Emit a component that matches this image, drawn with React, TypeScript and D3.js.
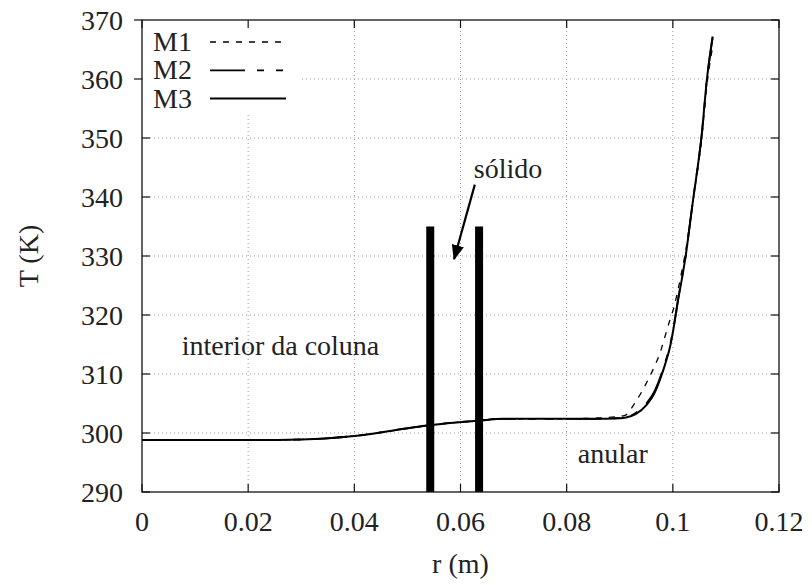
import React, { useEffect, useRef } from 'react';
import * as d3 from 'd3';

// radial position (m)
const rValues = [
  0, 0.01, 0.02, 0.03, 0.035, 0.04, 0.045, 0.05, 0.054, 0.058, 0.0635, 0.068, 0.075,
  0.082, 0.086, 0.089, 0.091, 0.093, 0.0951, 0.0965, 0.0976, 0.0986, 0.0995, 0.1003,
  0.101, 0.1018, 0.1025, 0.1032, 0.1039, 0.1047, 0.1054, 0.1064, 0.1075,
];

// temperature (K) for each model
const m1Values = [
  298.8, 298.8, 298.8, 298.9, 299.1, 299.5, 300.1, 300.8, 301.3, 301.7, 302.1, 302.4, 302.4,
  302.45, 302.55, 302.75, 303.0, 305.3, 308.6, 311.2, 313.6, 316.6, 319.3, 321.6,
  324.4, 327.9, 331.3, 335.5, 340.0, 344.8, 349.6, 358.8, 365.5,
];
const m2Values = [
  298.8, 298.8, 298.8, 298.9, 299.1, 299.5, 300.1, 300.8, 301.3, 301.7, 302.1, 302.4, 302.4,
  302.4, 302.4, 302.5, 302.65, 303.4, 305.1, 307.0, 309.4, 312.1, 315.0, 318.8,
  322.7, 326.7, 330.5, 335.3, 340.1, 345.2, 350.2, 359.7, 367.0,
];
const m3Values = [
  298.8, 298.8, 298.8, 298.9, 299.1, 299.5, 300.1, 300.8, 301.3, 301.7, 302.1, 302.4, 302.4,
  302.4, 302.4, 302.45, 302.6, 303.2, 304.8, 306.7, 309.1, 311.8, 314.7, 318.6,
  322.6, 326.6, 330.5, 335.3, 340.1, 345.2, 350.2, 359.8, 367.2,
];

const seriesNames = ['M1', 'M2', 'M3'];
const seriesDash = ['6,7', '35,12,7,12,7,12', null];
const seriesWidth = [1.3, 1.8, 2];

const xTicks = [0, 0.02, 0.04, 0.06, 0.08, 0.1, 0.12];
const yTicks = [290, 300, 310, 320, 330, 340, 350, 360, 370];

// wall of the column (solid) and its top
const wallPositions = [0.0543, 0.0635];
const wallTop = 335;

// arrow pointing at the solid: [r, T] tail and tip
const arrowTail = [0.0627, 342.1];
const arrowTip = [0.0588, 329.5];

const labels = [
  { text: 'sólido', r: 0.0625, T: 343.2 },
  { text: 'interior da coluna', r: 0.0075, T: 313.3 },
  { text: 'anular', r: 0.0821, T: 295 },
];

const App = () => {
  const svgRef = useRef<SVGSVGElement>(null);

  useEffect(() => {
    if (!svgRef.current) return;
    const width = 812;
    const height = 585;
    const margin = { top: 20, right: 33, bottom: 93, left: 142 };
    const font = "'Liberation Serif', 'Times New Roman', serif";

    const svg = d3.select(svgRef.current);
    svg.selectAll('*').remove();
    svg.attr('width', width).attr('height', height);

    const w = width - margin.left - margin.right;
    const h = height - margin.top - margin.bottom;

    const x = d3.scaleLinear().domain([0, 0.12]).range([margin.left, margin.left + w]);
    const y = d3.scaleLinear().domain([290, 370]).range([margin.top + h, margin.top]);

    // grid
    const grid = svg.append('g');
    grid.selectAll('.gx')
      .data(xTicks.slice(1, -1))
      .join('line')
      .attr('x1', d => x(d)).attr('x2', d => x(d))
      .attr('y1', y(290)).attr('y2', y(370))
      .attr('stroke', '#999').attr('stroke-width', 1).attr('stroke-dasharray', '1,3');
    grid.selectAll('.gy')
      .data(yTicks.slice(1, -1))
      .join('line')
      .attr('x1', x(0)).attr('x2', x(0.12))
      .attr('y1', d => y(d)).attr('y2', d => y(d))
      .attr('stroke', '#999').attr('stroke-width', 1).attr('stroke-dasharray', '1,3');

    // legend background hides the grid
    svg.append('rect')
      .attr('x', x(0) + 1).attr('y', y(370) + 1)
      .attr('width', 158).attr('height', 91)
      .attr('fill', '#fff');

    // ticks (inside, all four sides)
    const tk = 8;
    const ticks = svg.append('g').attr('stroke', '#111').attr('stroke-width', 1.2);
    xTicks.forEach(t => {
      ticks.append('line').attr('x1', x(t)).attr('x2', x(t)).attr('y1', y(290)).attr('y2', y(290) - tk);
      ticks.append('line').attr('x1', x(t)).attr('x2', x(t)).attr('y1', y(370)).attr('y2', y(370) + tk);
    });
    yTicks.forEach(t => {
      const inLegend = t >= 360;
      ticks.append('line')
        .attr('x1', x(0)).attr('x2', inLegend ? x(0) - tk : x(0) + tk)
        .attr('y1', y(t)).attr('y2', y(t));
      ticks.append('line').attr('x1', x(0.12)).attr('x2', x(0.12) - tk).attr('y1', y(t)).attr('y2', y(t));
    });

    // tick labels
    svg.append('g')
      .selectAll('text')
      .data(xTicks)
      .join('text')
      .attr('x', d => x(d))
      .attr('y', y(290) + 39)
      .attr('text-anchor', 'middle')
      .attr('font-family', font).attr('font-size', 28).attr('fill', '#222')
      .text(d => d3.format('~g')(d));
    svg.append('g')
      .selectAll('text')
      .data(yTicks)
      .join('text')
      .attr('x', x(0) - 19)
      .attr('y', d => y(d))
      .attr('dy', '0.35em')
      .attr('text-anchor', 'end')
      .attr('font-family', font).attr('font-size', 28).attr('fill', '#222')
      .text(d => d);

    // axis titles
    svg.append('text')
      .attr('x', x(0.06)).attr('y', 573)
      .attr('text-anchor', 'middle')
      .attr('font-family', font).attr('font-size', 28).attr('fill', '#222')
      .text('r (m)');
    svg.append('text')
      .attr('transform', `translate(38,${y(330)}) rotate(-90)`)
      .attr('text-anchor', 'middle')
      .attr('font-family', font).attr('font-size', 28).attr('fill', '#222')
      .text('T (K)');

    // solid walls
    svg.selectAll('.wall')
      .data(wallPositions)
      .join('rect')
      .attr('x', d => x(d) - 4)
      .attr('y', y(wallTop))
      .attr('width', 8)
      .attr('height', y(290) - y(wallTop))
      .attr('fill', '#000');

    // curves
    const series = [m1Values, m2Values, m3Values];
    const line = d3.line<number>()
      .x((_, i) => x(rValues[i]))
      .y(d => y(d))
      .curve(d3.curveMonotoneX);
    series.forEach((vals, i) => {
      svg.append('path')
        .datum(vals)
        .attr('d', line)
        .attr('fill', 'none')
        .attr('stroke', '#000')
        .attr('stroke-width', seriesWidth[i])
        .attr('stroke-dasharray', seriesDash[i]);
    });

    // frame
    svg.append('rect')
      .attr('x', x(0)).attr('y', y(370))
      .attr('width', w).attr('height', h)
      .attr('fill', 'none').attr('stroke', '#111').attr('stroke-width', 1.3);

    // legend
    const leg = svg.append('g');
    seriesNames.forEach((name, i) => {
      const ly = y(370) + 22 + i * 28.3;
      leg.append('text')
        .attr('x', x(0) + 11).attr('y', ly + 9)
        .attr('font-family', font).attr('font-size', 28).attr('fill', '#222')
        .text(name);
      leg.append('line')
        .attr('x1', 210).attr('x2', 286)
        .attr('y1', ly).attr('y2', ly)
        .attr('stroke', '#000')
        .attr('stroke-width', seriesWidth[i])
        .attr('stroke-dasharray', seriesDash[i]);
    });

    // arrow
    const defs = svg.append('defs');
    defs.append('marker')
      .attr('id', 'arrowhead')
      .attr('viewBox', '0 0 10 10')
      .attr('refX', 9).attr('refY', 5)
      .attr('markerWidth', 7).attr('markerHeight', 7)
      .attr('markerUnits', 'strokeWidth')
      .attr('orient', 'auto')
      .append('path')
      .attr('d', 'M0,1 L10,5 L0,9 z')
      .attr('fill', '#000');
    svg.append('line')
      .attr('x1', x(arrowTail[0])).attr('y1', y(arrowTail[1]))
      .attr('x2', x(arrowTip[0])).attr('y2', y(arrowTip[1]))
      .attr('stroke', '#000').attr('stroke-width', 2.2)
      .attr('marker-end', 'url(#arrowhead)');

    // annotations
    svg.selectAll('.ann')
      .data(labels)
      .join('text')
      .attr('x', d => x(d.r))
      .attr('y', d => y(d.T))
      .attr('font-family', font).attr('font-size', 28).attr('fill', '#222')
      .text(d => d.text);
  }, []);

  return (
    <svg
      ref={svgRef}
      style={{ display: 'block', position: 'absolute', left: 0, top: 0, background: '#fff' }}
    />
  );
};

export default App;
